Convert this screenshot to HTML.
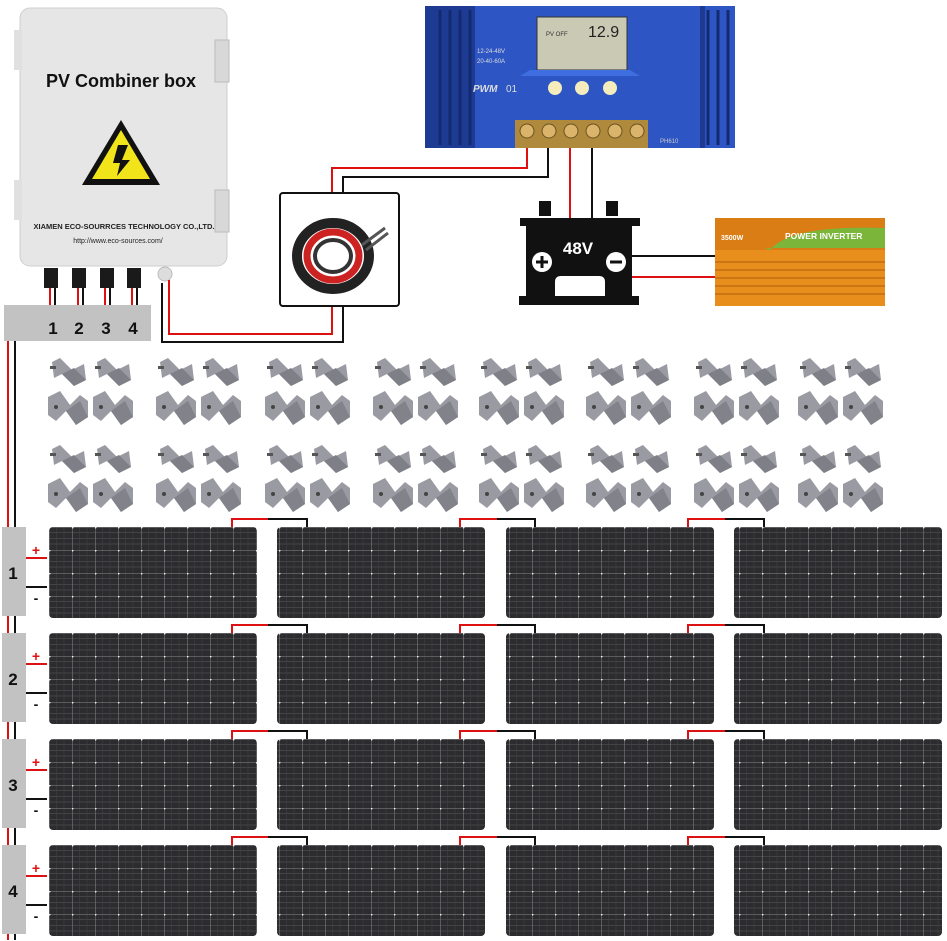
<!DOCTYPE html>
<html><head><meta charset="utf-8"><style>
html,body{margin:0;padding:0;background:#fff;width:947px;height:941px;overflow:hidden}
svg{display:block}
text{font-family:"Liberation Sans",sans-serif}
</style></head><body>
<svg width="947" height="941" viewBox="0 0 947 941" xmlns="http://www.w3.org/2000/svg">
<defs>
<pattern id="cells" x="49" y="527" width="23" height="23" patternUnits="userSpaceOnUse">
<rect width="23" height="23" fill="#2c2c2e"/>
<path d="M0 5.5H23M0 11.5H23M0 17H23" stroke="#4a4a4e" stroke-width="0.8"/>
<path d="M7.5 0V23M15 0V23" stroke="#404044" stroke-width="0.6"/>
<path d="M0 0H23M0 0V23" stroke="#8a8a8e" stroke-width="1"/>
<circle cx="0" cy="0" r="1.6" fill="#eee"/>
</pattern>
<g id="clipA"><polygon points="2,4 10,0 22,12 34,6 36,22 24,28 12,16 4,20" fill="#9a9aa2"/><polygon points="12,16 24,28 36,22 24,10" fill="#7f7f88"/><rect x="0" y="8" width="6" height="3" fill="#555"/></g>
<g id="clipB"><polygon points="0,6 12,0 22,14 32,4 40,10 40,26 28,34 18,20 8,30 0,24" fill="#9a9aa2"/><polygon points="18,20 28,34 40,26 32,10" fill="#82828b"/><circle cx="8" cy="16" r="2" fill="#444"/></g>
<g id="grp"><use href="#clipA" x="0" y="0"/><use href="#clipA" x="45" y="0"/><use href="#clipB" x="-2" y="33"/><use href="#clipB" x="43" y="33"/></g>
</defs>

<rect x="20" y="8" width="207" height="258" rx="10" fill="#e6e6e6" stroke="#cfcfcf"/>
<rect x="215" y="40" width="14" height="42" fill="#d8d8d8" stroke="#bbb"/>
<rect x="215" y="190" width="14" height="42" fill="#d8d8d8" stroke="#bbb"/>
<rect x="14" y="30" width="8" height="40" fill="#e0e0e0"/><rect x="14" y="180" width="8" height="40" fill="#e0e0e0"/>
<text x="121" y="87" font-size="18" font-weight="bold" text-anchor="middle" fill="#111">PV Combiner box</text>
<polygon points="121,120 82,185 160,185" fill="#111"/>
<polygon points="121,130 92,179 150,179" fill="#f2e41a"/>
<polygon points="118,145 128,145 122,160 130,160 117,176 120,163 113,163" fill="#111"/>
<text x="124" y="229" font-size="7.5" font-weight="bold" text-anchor="middle" fill="#222">XIAMEN ECO-SOURRCES TECHNOLOGY CO.,LTD.</text>
<text x="118" y="243" font-size="7" text-anchor="middle" fill="#222">http://www.eco-sources.com/</text>
<g fill="#1a1a1a">
<rect x="44" y="268" width="14" height="20"/><rect x="72" y="268" width="14" height="20"/><rect x="100" y="268" width="14" height="20"/><rect x="127" y="268" width="14" height="20"/>
</g>
<g stroke-width="2">
<path d="M50 288V306M78 288V306M105 288V306M132 288V306" stroke="#d11"/>
<path d="M55 288V306M83 288V306M110 288V306M137 288V306" stroke="#111"/>
</g>
<circle cx="165" cy="274" r="7" fill="#ddd" stroke="#bbb"/>
<rect x="4" y="305" width="147" height="36" fill="#c2c2c2"/>
<g font-size="17" font-weight="bold" text-anchor="middle" fill="#111">
<text x="53" y="334">1</text><text x="79" y="334">2</text><text x="106" y="334">3</text><text x="133" y="334">4</text>
</g>

<g fill="none" stroke-width="2">
<path d="M169 280V334H332V307" stroke="#d11"/>
<path d="M162 283V342H343V307" stroke="#111"/>
<path d="M332 193V168H527V146" stroke="#d11"/>
<path d="M343 193V177H548V146" stroke="#111"/>
<path d="M570 146V218" stroke="#d11"/>
<path d="M592 146V218" stroke="#111"/>
<path d="M632 256H715" stroke="#111"/>
<path d="M632 277H715" stroke="#d11"/>
</g>
<rect x="280" y="193" width="119" height="113" rx="3" fill="#fff" stroke="#111" stroke-width="2"/>
<ellipse cx="333" cy="256" rx="36" ry="33" fill="none" stroke="#222" stroke-width="10"/>
<ellipse cx="333" cy="256" rx="26" ry="24" fill="none" stroke="#c22" stroke-width="7"/>
<ellipse cx="333" cy="256" rx="18" ry="16" fill="none" stroke="#333" stroke-width="4"/>
<path d="M362 245L385 228M366 250L388 233" stroke="#555" stroke-width="3"/>

<rect x="425" y="6" width="310" height="142" fill="#2d55c4"/>
<rect x="425" y="6" width="50" height="142" fill="#1e3b94"/>
<path d="M440 10V145M450 10V145M460 10V145M470 10V145M708 10V145M718 10V145M728 10V145" stroke="#142a70" stroke-width="3"/>
<rect x="700" y="6" width="5" height="142" fill="#1e3b94"/>
<rect x="537" y="17" width="90" height="53" fill="#c9c9b4" stroke="#333"/>
<polygon points="520,76 640,76 630,70 530,70" fill="#3f6ee0"/>
<text x="588" y="37" font-size="16" fill="#222" font-family="Liberation Mono">12.9</text>
<text x="546" y="36" font-size="6" fill="#333">PV OFF</text>
<text x="477" y="53" font-size="6" fill="#ddd">12-24-48V</text>
<text x="477" y="63" font-size="6" fill="#ddd">20-40-60A</text>
<text x="473" y="92" font-size="10" font-style="italic" font-weight="bold" fill="#ddd" font-family="Liberation Serif">PWM</text>
<text x="506" y="92" font-size="10" fill="#ddd">01</text>
<circle cx="555" cy="88" r="7" fill="#f4ecbc"/><circle cx="582" cy="88" r="7" fill="#f4ecbc"/><circle cx="610" cy="88" r="7" fill="#f4ecbc"/>
<rect x="515" y="120" width="133" height="28" fill="#b08a3c"/>
<g fill="#d9b46a" stroke="#6b5220"><circle cx="527" cy="131" r="7"/><circle cx="549" cy="131" r="7"/><circle cx="571" cy="131" r="7"/><circle cx="593" cy="131" r="7"/><circle cx="615" cy="131" r="7"/><circle cx="637" cy="131" r="7"/></g>
<text x="660" y="143" font-size="6" fill="#ccc">PH610</text>

<rect x="539" y="201" width="12" height="15" fill="#111"/><rect x="606" y="201" width="12" height="15" fill="#111"/>
<rect x="520" y="218" width="120" height="8" fill="#111"/>
<rect x="526" y="226" width="106" height="70" fill="#111"/>
<rect x="519" y="296" width="120" height="9" fill="#111"/>
<text x="578" y="254" font-size="17" font-weight="bold" fill="#fff" text-anchor="middle">48V</text>
<circle cx="542" cy="262" r="10" fill="#fff"/><path d="M536 262H548M542 256V268" stroke="#111" stroke-width="3"/>
<circle cx="616" cy="262" r="10" fill="#fff"/><path d="M610 262H622" stroke="#111" stroke-width="3"/>
<path d="M555 296V282Q555 276 561 276H599Q605 276 605 282V296Z" fill="#fff"/>

<rect x="715" y="218" width="170" height="88" fill="#e88e1c"/>
<rect x="715" y="218" width="170" height="32" fill="#d97d14"/>
<path d="M770 250Q790 225 885 228V248H765Z" fill="#7bb53a"/>
<path d="M715 262H885M715 270H885M715 278H885M715 286H885M715 294H885" stroke="#c46c10" stroke-width="1.5"/>
<text x="721" y="240" font-size="7" font-weight="bold" fill="#fff">3500W</text>
<text x="785" y="239" font-size="8.5" font-weight="bold" fill="#fff">POWER INVERTER</text>

<g>
<use href="#grp" x="50" y="358"/><use href="#grp" x="158" y="358"/><use href="#grp" x="267" y="358"/><use href="#grp" x="375" y="358"/>
<use href="#grp" x="481" y="358"/><use href="#grp" x="588" y="358"/><use href="#grp" x="696" y="358"/><use href="#grp" x="800" y="358"/>
<use href="#grp" x="50" y="445"/><use href="#grp" x="158" y="445"/><use href="#grp" x="267" y="445"/><use href="#grp" x="375" y="445"/>
<use href="#grp" x="481" y="445"/><use href="#grp" x="588" y="445"/><use href="#grp" x="696" y="445"/><use href="#grp" x="800" y="445"/>
</g>

<path d="M8 341V940" stroke="#d11" stroke-width="2"/>
<path d="M15 341V940" stroke="#111" stroke-width="2"/>

<g id="row1">
<g fill="url(#cells)">
<rect x="49" y="527" width="208" height="91" rx="4"/><rect x="277" y="527" width="208" height="91" rx="4"/><rect x="506" y="527" width="208" height="91" rx="4"/><rect x="734" y="527" width="208" height="91" rx="4"/>
</g>
<g fill="none" stroke-width="2">
<path d="M232 527V519H268" stroke="#d11"/><path d="M268 519H307V527" stroke="#111"/>
<path d="M460 527V519H497" stroke="#d11"/><path d="M497 519H535V527" stroke="#111"/>
<path d="M688 527V519H725" stroke="#d11"/><path d="M725 519H764V527" stroke="#111"/>
<path d="M26 558H47" stroke="#d11"/><path d="M26 587H47" stroke="#111"/>
</g>
<rect x="2" y="527" width="24" height="89" fill="#c2c2c2"/>
<text x="36" y="555" font-size="14" font-weight="bold" fill="#d11" text-anchor="middle">+</text>
<text x="36" y="603" font-size="14" font-weight="bold" fill="#111" text-anchor="middle">-</text>
</g>
<text x="13" y="579" font-size="17" font-weight="bold" text-anchor="middle" fill="#111">1</text>
<use href="#row1" y="106"/><text x="13" y="685" font-size="17" font-weight="bold" text-anchor="middle" fill="#111">2</text>
<use href="#row1" y="212"/><text x="13" y="791" font-size="17" font-weight="bold" text-anchor="middle" fill="#111">3</text>
<use href="#row1" y="318"/><text x="13" y="897" font-size="17" font-weight="bold" text-anchor="middle" fill="#111">4</text>
</svg>
</body></html>
